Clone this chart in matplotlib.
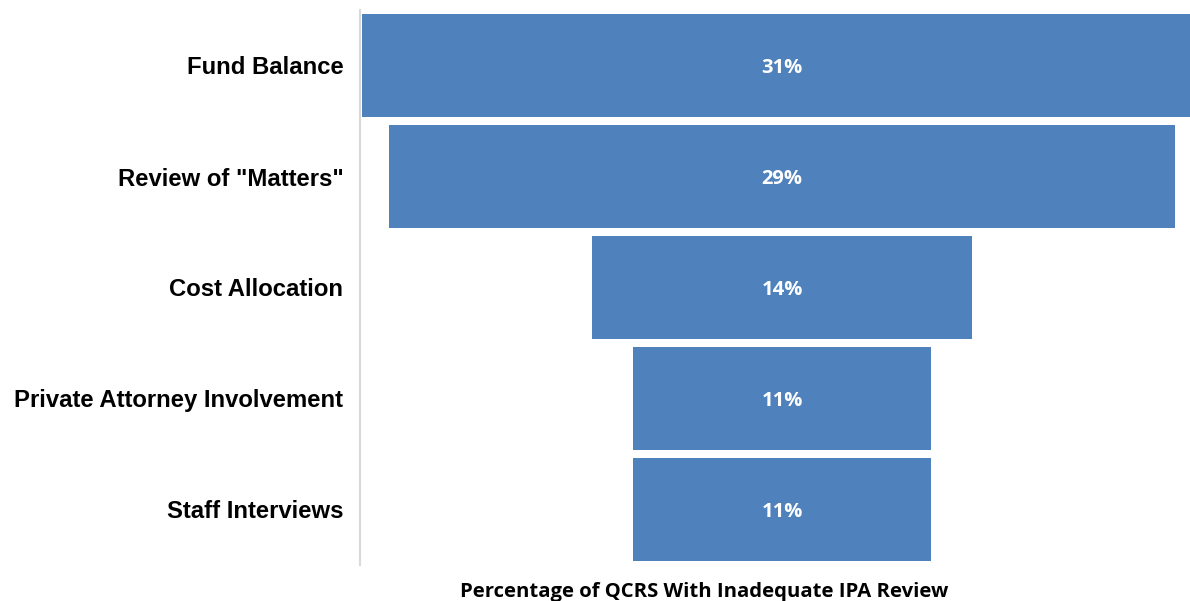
import numpy as np
import matplotlib
matplotlib.use('Agg')
import matplotlib.pyplot as plt

categories = ['Fund Balance', 'Review of "Matters"', 'Cost Allocation',
              'Private Attorney Involvement', 'Staff Interviews']
values = [31, 29, 14, 11, 11]

bar_color = '#4F81BD'

fig = plt.figure(figsize=(11.9, 6.01), dpi=100)
ax = fig.add_axes([360 / 1190, 36 / 601, 830 / 1190, 555 / 601])

y = np.arange(len(categories))
vals = np.array(values, dtype=float)
ax.barh(y, vals, left=-vals / 2, height=0.93, color=bar_color)

for yi, v in zip(y, values):
    ax.text(0, yi + 0.02, f'{v}%', ha='center', va='center', color='white',
            fontsize=14.5, fontweight='bold', family='Open Sans')

scale = 840 / 31  # pixels per percent
ax.set_xlim(-15.5 - 2 / scale, -15.5 - 2 / scale + 830 / scale)
ax.set_ylim(len(categories) - 0.5, -0.5)

ax.set_yticks(y)
ax.set_yticklabels(categories, fontsize=17.2, fontweight='bold', family='Liberation Sans')
ax.tick_params(axis='y', length=0, pad=12)
ax.set_xticks([])

for s in ['top', 'right', 'bottom']:
    ax.spines[s].set_visible(False)
ax.spines['left'].set_color('#D9D9D9')
ax.spines['left'].set_linewidth(1.5)

fig.text(704 / 1190, 1 - 592 / 601, 'Percentage of QCRS With Inadequate IPA Review',
         ha='center', va='center', fontsize=14.6, fontweight='bold', family='Open Sans')

fig.savefig('out.png', dpi=100)
